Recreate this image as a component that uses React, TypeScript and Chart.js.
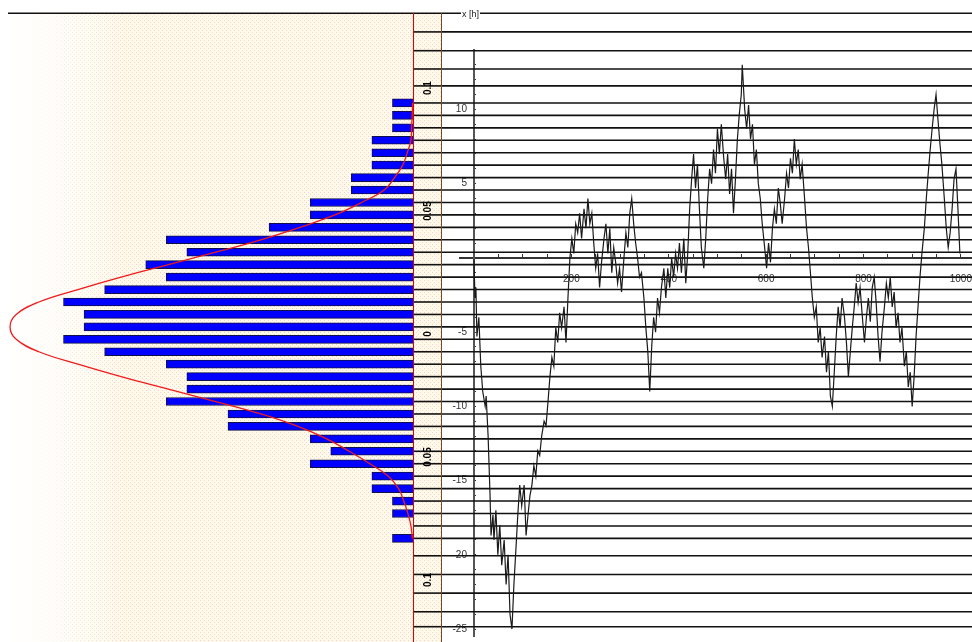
import React, { useEffect, useRef } from "react";
import { Chart, registerables } from "chart.js";

Chart.register(...registerables);

// ---- Histogram (bins numbered from top to bottom) ----
const histCounts = [1, 1, 1, 2, 2, 2, 3, 3, 5, 5, 7, 12, 11, 13, 12, 15, 17, 16, 16, 17, 15, 12, 11, 11, 12, 9, 9, 5, 4, 5, 2, 2, 1, 1, 0, 1];
// Fitted normal curve read at each bin centre
const curveCounts = [0.02, 0.04, 0.07, 0.1, 0.28, 0.5, 0.9, 1.4, 2.5, 3.8, 5.5, 7.4, 9.6, 11.9, 14.2, 16.3, 18.2, 19.3, 19.6, 19.3, 18.2, 16.3, 14.2, 11.9, 9.6, 7.4, 5.6, 4.2, 3.1, 2.1, 1.2, 0.7, 0.45, 0.25, 0.1, 0.03];
// Extra horizontal rules outside the histogram bins (bin units)
const extraRules = [-7.21, -5.71, -4.2, -2.73, -1.37, 36.4, 37.9, 39.4, 40.9, 42.1];
// Density axis labels (rotated)
const densTicks = [0.1, 0.05, 0, -0.05, -0.1];

// ---- Random walk: [time h, value] ----
const walk: [number, number][] = [
  [0, -0.1], [2, -2.7], [4, -2], [6, -5.3], [10, -4], [14, -7.3], [18, -9], [23, -10], [25, -9.3], [29, -12],
  [31, -14], [33, -16], [35, -18.7], [39, -17.3], [41, -19], [45, -17], [49, -20], [53, -18], [57, -20.7], [62, -19],
  [66, -22], [70, -20], [74, -24], [78, -25], [82, -22], [86, -19.7], [90, -17.3], [94, -15.3], [98, -16.7], [103, -15.3],
  [107, -18.7], [111, -17.3], [115, -16], [119, -15.3], [123, -14], [127, -14.7], [131, -13], [135, -13.3], [139, -12], [144, -11],
  [148, -11.3], [152, -9.7], [156, -8], [160, -6.7], [164, -7.3], [168, -4.7], [172, -5.7], [176, -3.7], [180, -4.7], [185, -3.3],
  [189, -5.7], [193, -2.7], [197, 0], [201, 1.3], [205, 0.3], [209, 2.3], [213, 1.7], [217, 3], [221, 1.3], [226, 3.3],
  [230, 2], [234, 4], [238, 2.3], [242, 3], [246, 1], [250, -0.7], [254, 0.3], [258, -2], [262, -0.3], [267, 1.3],
  [271, 2.3], [275, 0.3], [279, 2], [283, -1], [287, 0.7], [291, -0.3], [295, -1.7], [299, -0.7], [303, -2.3], [308, 0],
  [312, 1.7], [316, 0.7], [320, 3], [324, 4], [328, 2.3], [332, 1], [336, 0], [340, -1.3], [344, -1], [349, -2.7],
  [353, -4.7], [357, -6.3], [361, -9], [365, -6], [369, -4], [373, -5], [377, -2.7], [381, -3.7], [385, -2], [390, -0.7],
  [394, -2.7], [398, -0.7], [402, -2], [406, 0], [410, -1.3], [414, 0.3], [418, -0.7], [422, 1], [426, -1], [431, 1.3],
  [435, -1.7], [439, 0.3], [443, 3.3], [447, 5.3], [451, 7], [455, 4.7], [459, 6.3], [463, 3.3], [467, 0.7], [472, -0.7],
  [476, 1.3], [480, 4], [484, 6], [488, 5], [492, 7.3], [496, 5.7], [500, 8.7], [504, 7], [508, 9], [513, 6.7],
  [517, 5.3], [521, 7], [525, 4.3], [529, 6], [533, 3], [537, 5.3], [541, 8], [545, 9.7], [549, 11], [551, 13],
  [556, 10], [560, 8.7], [564, 10.3], [568, 8], [572, 9], [576, 6.3], [580, 7.3], [584, 5], [588, 4], [592, 2.3],
  [597, 0.7], [601, -0.7], [605, 1], [609, -0.3], [613, 2], [617, 3.3], [621, 2.3], [625, 4.7], [629, 3.7], [633, 2.3],
  [638, 4], [642, 5.7], [646, 4.7], [650, 6.7], [654, 5.7], [658, 8], [662, 6.3], [666, 7.3], [670, 5.3], [674, 6.3],
  [679, 4], [683, 2], [687, 0.7], [691, -1], [695, -2.7], [699, -4], [703, -3.3], [707, -5.7], [711, -4.7], [715, -6.7],
  [720, -5.3], [724, -7.7], [728, -6.3], [732, -9.3], [736, -10], [740, -7.7], [744, -5.3], [748, -3.3], [752, -4.7], [756, -2.7],
  [761, -4], [765, -5.7], [769, -8], [773, -6.3], [777, -4.7], [781, -3.3], [785, -1.7], [789, -3], [793, -2], [797, -3.7],
  [802, -5.7], [806, -4], [810, -2.7], [814, -4.3], [818, -2], [822, -1.3], [826, -3], [830, -5.3], [834, -7], [838, -5],
  [843, -3.3], [847, -1.7], [851, -2.7], [855, -1.3], [859, -3.3], [863, -2.3], [867, -4.7], [871, -3.7], [875, -5.7], [879, -4.7],
  [884, -7.3], [888, -6.3], [892, -8.7], [896, -7.7], [900, -10], [904, -8], [908, -5.3], [912, -3.3], [916, -1.3], [920, 0.3],
  [925, 2], [929, 4], [933, 5.7], [937, 7.3], [941, 8.7], [945, 10], [949, 11], [953, 9.3], [957, 7.7], [961, 6.3],
  [966, 4], [970, 2], [974, 0.7], [978, 1.7], [982, 3.3], [986, 5.3], [990, 6], [994, 3.3], [998, 0.3],
];

// ---- Axis ticks ----
const timeTickStep = 50;
const timeLabelStep = 200;
const timeMax = 1000;
const valueMinTick = -25;
const valueMaxTick = 13;
const valueLabelStep = 5;
const axisTitle = "x [h]";

const FONT = "'Liberation Sans', Arial, sans-serif";

export default function App() {
  const refA = useRef<HTMLCanvasElement>(null);
  const refB = useRef<HTMLCanvasElement>(null);

  useEffect(() => {
    const rules = [...histCounts.map((_, i) => i), ...extraRules];
    const topRule = Math.min(...rules);
    const timeTicks: number[] = [];
    for (let t = 0; t <= timeMax; t += timeTickStep) timeTicks.push(t);
    const timeLabelTicks = timeTicks.filter((t) => t > 0 && t % timeLabelStep === 0);
    const valueTicks: number[] = [];
    for (let v = valueMinTick; v <= valueMaxTick; v++) valueTicks.push(v);
    const valueLabelTicks = valueTicks.filter((v) => v !== 0 && v % valueLabelStep === 0);

    const histDecor = {
      id: "histDecor",
      beforeDraw(chart: any) {
        const { ctx, chartArea: a, width, height } = chart;
        ctx.save();
        const pc = document.createElement("canvas");
        pc.width = 4;
        pc.height = 4;
        const p = pc.getContext("2d")!;
        p.fillStyle = "#fffaea";
        p.fillRect(0, 0, 4, 4);
        p.fillStyle = "#f6d0ca";
        p.fillRect(0, 0, 1, 1);
        p.fillRect(2, 2, 1, 1);
        ctx.fillStyle = ctx.createPattern(pc, "repeat");
        ctx.fillRect(a.left, a.top, width - a.left, height - a.top);
        const g = ctx.createLinearGradient(a.left, 0, a.left + 115, 0);
        g.addColorStop(0, "rgba(255,255,255,0.97)");
        g.addColorStop(0.45, "rgba(255,255,255,0.7)");
        g.addColorStop(1, "rgba(255,255,255,0)");
        ctx.fillStyle = g;
        ctx.fillRect(a.left, a.top, 115, height - a.top);
        ctx.restore();
      },
      afterDraw(chart: any) {
        const { ctx, chartArea: a, width, height, scales } = chart;
        const base = scales.x.getPixelForValue(0);
        ctx.save();
        ctx.strokeStyle = "#111";
        ctx.lineWidth = 1.6;
        rules.forEach((r) => {
          const y = scales.y.getPixelForValue(r);
          ctx.beginPath();
          ctx.moveTo(r === topRule ? a.left : base, y);
          ctx.lineTo(width, y);
          ctx.stroke();
        });
        ctx.strokeStyle = "#e00000";
        ctx.lineWidth = 1;
        ctx.beginPath();
        ctx.moveTo(Math.round(base) + 0.5, a.top);
        ctx.lineTo(Math.round(base) + 0.5, height);
        ctx.stroke();
        ctx.strokeStyle = "#7a4a1e";
        ctx.beginPath();
        ctx.moveTo(width - 0.5, a.top);
        ctx.lineTo(width - 0.5, height);
        ctx.stroke();
        const d = scales.d;
        ctx.fillStyle = "#000";
        ctx.font = `bold 10px ${FONT}`;
        ctx.textAlign = "center";
        ctx.textBaseline = "middle";
        densTicks.forEach((v) => {
          const y = d.getPixelForValue(v);
          ctx.save();
          ctx.translate((a.right + width) / 2 + 1, y);
          ctx.rotate(-Math.PI / 2);
          ctx.fillText(String(Math.abs(v)), 0, 0);
          ctx.restore();
        });
        ctx.restore();
      },
    };

    const chartA = new Chart(refA.current!, {
      type: "bar",
      data: {
        datasets: [
          {
            type: "line",
            data: curveCounts.map((c, i) => ({ x: c, y: i })),
            borderColor: "#ee1c1c",
            borderWidth: 1.3,
            pointRadius: 0,
            tension: 0.4,
            order: 0,
            indexAxis: "y",
          } as any,
          {
            type: "bar",
            data: histCounts.map((c, i) => ({ x: c, y: i })),
            backgroundColor: "#0000ff",
            borderColor: "#10104a",
            borderWidth: 1,
            barThickness: 8,
            order: 1,
          },
        ],
      },
      options: {
        indexAxis: "y",
        responsive: false,
        animation: false,
        layout: { autoPadding: false, padding: { left: 8, right: 29, top: 13, bottom: 0 } },
        plugins: { legend: { display: false }, tooltip: { enabled: false } },
        scales: {
          x: { type: "linear", reverse: true, min: 0, max: 19.7, bounds: "data", offset: false, display: false },
          y: { type: "linear", reverse: true, min: -7.23, max: 43.33, bounds: "data", offset: false, display: false },
          d: { type: "linear", axis: "y", min: -0.1252, max: 0.1305, bounds: "data", offset: false, display: false },
        },
      } as any,
      plugins: [histDecor],
    });

    // rules across the walk panel use the histogram's row scale (both canvases share the same top)
    const walkDecor = {
      id: "walkDecor",
      beforeDatasetsDraw(chart: any) {
        const { ctx, width } = chart;
        const rowScale: any = chartA.scales.y;
        ctx.save();
        ctx.strokeStyle = "#111";
        ctx.lineWidth = 1.6;
        rules.forEach((r) => {
          const y = rowScale.getPixelForValue(r);
          ctx.beginPath();
          ctx.moveTo(0, y);
          ctx.lineTo(width, y);
          ctx.stroke();
        });
        ctx.restore();
      },
      afterDraw(chart: any) {
        const { ctx, chartArea: a } = chart;
        ctx.save();
        ctx.font = `9px ${FONT}`;
        const w = ctx.measureText(axisTitle).width;
        ctx.fillStyle = "#fff";
        ctx.fillRect(a.left + 1, 9, w + 2, 10);
        ctx.fillStyle = "#222";
        ctx.textAlign = "left";
        ctx.textBaseline = "middle";
        ctx.fillText(axisTitle, a.left + 2, 15);
        ctx.restore();
      },
    };

    const tickFont = { family: FONT, size: 10 };
    const setTicks = (vals: number[]) => (scale: any) => {
      scale.ticks = vals.map((value) => ({ value }));
    };
    const plain = (v: any) => String(v);
    const X_RANGE = { min: -28.72, max: 1021.54 };
    const Y_RANGE = { min: -25.467, max: 14 };

    const chartB = new Chart(refB.current!, {
      type: "line",
      data: {
        datasets: [
          {
            data: walk.map(([t, v]) => ({ x: t, y: v })),
            borderColor: "#1a1a1a",
            borderWidth: 1.2,
            pointRadius: 0,
            tension: 0,
            xAxisID: "x",
            yAxisID: "y",
          },
        ],
      },
      options: {
        responsive: false,
        animation: false,
        layout: { autoPadding: false, padding: { left: 18, top: 50, right: 0, bottom: 0 } },
        plugins: { legend: { display: false }, tooltip: { enabled: false } },
        scales: {
          x: {
            type: "linear",
            ...X_RANGE,
            bounds: "data",
            position: { y: 0 },
            afterBuildTicks: setTicks(timeTicks),
            border: { color: "#333", width: 2 },
            grid: { drawOnChartArea: false, drawTicks: true, tickLength: -5, color: "#333" },
            ticks: { display: false, autoSkip: false },
          },
          xl: {
            type: "linear",
            axis: "x",
            ...X_RANGE,
            bounds: "data",
            position: { y: -1.067 },
            afterBuildTicks: setTicks(timeLabelTicks),
            border: { display: false },
            grid: { display: false, drawTicks: false },
            ticks: { autoSkip: false, maxRotation: 0, padding: 0, font: tickFont, color: "#333", callback: plain },
          },
          y: {
            type: "linear",
            ...Y_RANGE,
            bounds: "data",
            position: { x: 0 },
            afterBuildTicks: setTicks(valueTicks),
            border: { color: "#555", width: 2, dash: [2, 1] },
            grid: { drawOnChartArea: false, drawTicks: true, tickLength: -3, color: "#333" },
            ticks: { display: false, autoSkip: false },
          },
          yl: {
            type: "linear",
            axis: "y",
            ...Y_RANGE,
            bounds: "data",
            position: { x: -14.4 },
            afterBuildTicks: setTicks(valueLabelTicks),
            border: { display: false },
            grid: { display: false, drawTicks: false },
            ticks: { autoSkip: false, padding: 0, font: tickFont, color: "#333", callback: plain },
          },
        },
      } as any,
      plugins: [walkDecor],
    });

    return () => {
      chartA.destroy();
      chartB.destroy();
    };
  }, []);

  return (
    <div style={{ position: "fixed", left: 0, top: 0, width: 972, height: 642, background: "#fff", overflow: "hidden" }}>
      <canvas ref={refA} width={442} height={642} style={{ position: "absolute", left: 0, top: 0, width: 442, height: 642 }} />
      <canvas ref={refB} width={530} height={642} style={{ position: "absolute", left: 442, top: 0, width: 530, height: 642 }} />
    </div>
  );
}
